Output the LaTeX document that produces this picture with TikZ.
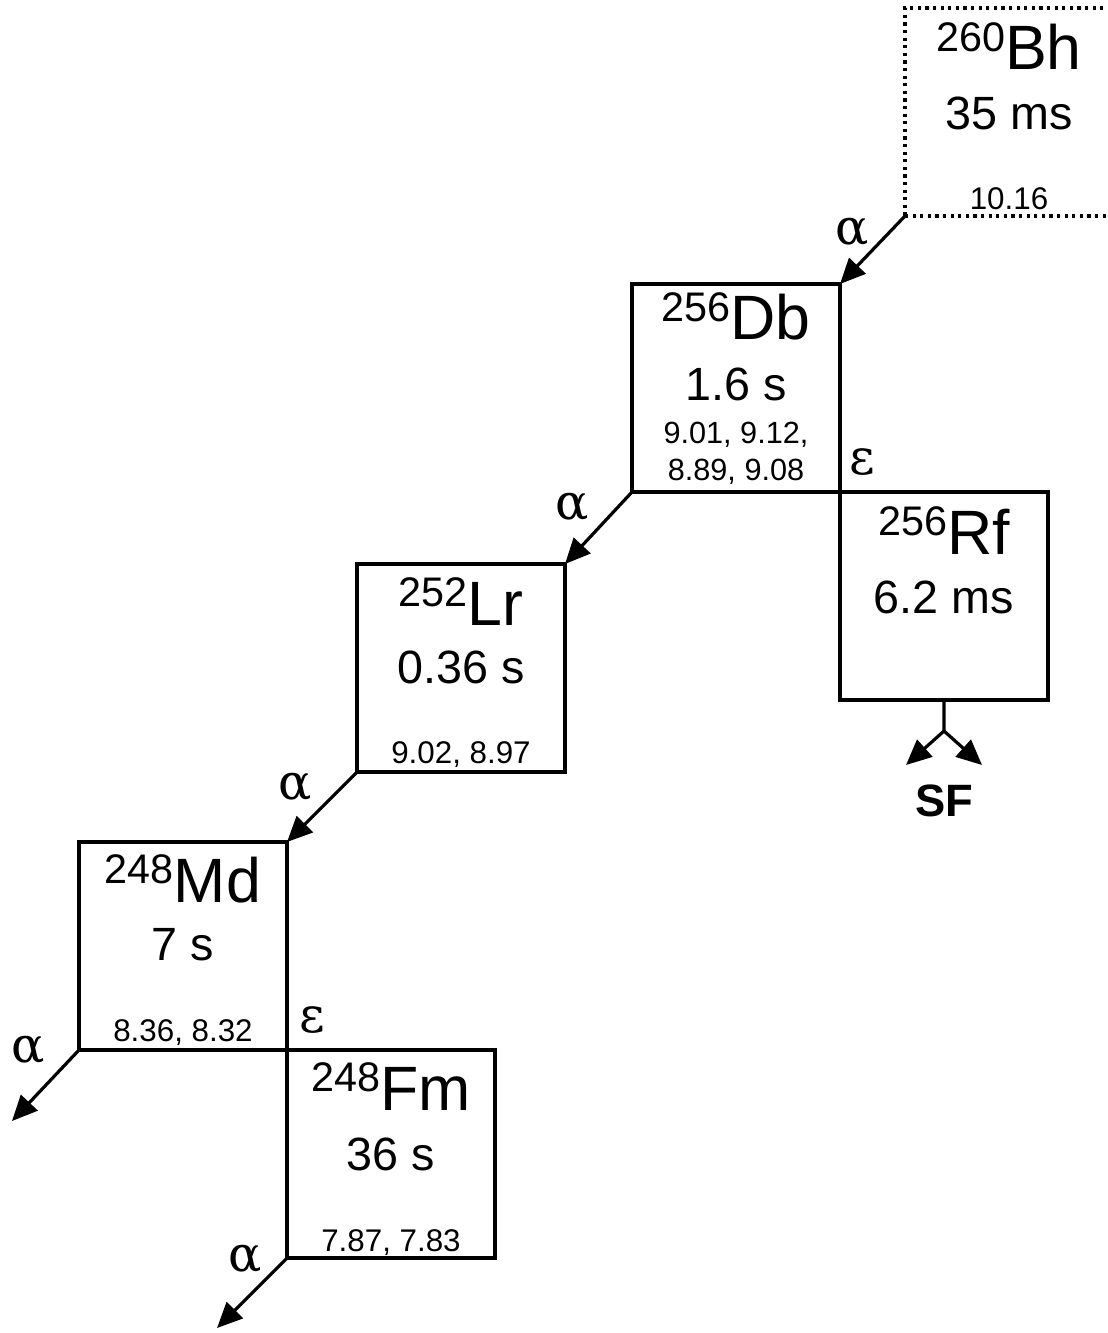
\documentclass[tikz,border=0pt]{standalone}
\usepackage{fontspec}
\setmainfont{Liberation Sans}
\newfontfamily\greekfont{DejaVu Serif}
\usepackage{tikz}
\usetikzlibrary{arrows.meta, positioning, calc}

\newcommand{\isotope}[2]{\raisebox{14pt}{\fontsize{31}{33}\selectfont #1}{\fontsize{47}{50}\selectfont #2}}

\begin{document}
\begin{tikzpicture}[x=0.75pt, y=-0.75pt, >={Triangle[length=19pt, width=17pt]}]
      \tikzstyle{nucl} = [rectangle, draw, line width=2.4pt, minimum width=156pt, minimum height=156pt, inner sep=0pt, outer sep=0pt]
      \tikzstyle{guess} = [dash pattern=on 2.4pt off 3.3pt]
      \tikzstyle{sym} = [anchor=base, inner sep=0pt]
      \tikzstyle{half} = [anchor=base, inner sep=0pt, font=\fontsize{35}{38}\selectfont]
      \tikzstyle{egy} = [anchor=base, inner sep=0pt, font=\fontsize{23.5}{25}\selectfont]
      \tikzstyle{egysmall} = [anchor=base, inner sep=0pt, font=\fontsize{23}{25}\selectfont]
      \tikzstyle{mode} = [inner sep=0pt, font=\greekfont\fontsize{37}{39}\selectfont]
      \tikzstyle{decay} = [->, line width=2.4pt]

      \useasboundingbox (0,0) rectangle (1107,1333);

      % Boxes
      \node (bh) [nucl, guess, anchor=north west] at (905,8) {};
      \node (db) [nucl, anchor=north west] at (632,284) {};
      \node (rf) [nucl, anchor=north west] at (db.south east) {};
      \node (lr) [nucl, anchor=north west] at (357,564) {};
      \node (md) [nucl, anchor=north west] at (79,842) {};
      \node (fm) [nucl, anchor=north west] at (md.south east) {};

      % Box texts
      \node (bhsym) [sym] at ($(bh.north)+(0,62)$) {\isotope{260}{Bh}};
      \node (bhhalf) [half] at ($(bh.north)+(0,122)$) {35 ms};
      \node (bhegy) [egy] at ($(bh.north)+(0,202)$) {10.16};

      \node (dbsym) [sym] at ($(db.north)+(0,56)$) {\isotope{256}{Db}};
      \node (dbhalf) [half] at ($(db.north)+(0,116)$) {1.6 s};
      \node (dbegy1) [egysmall] at ($(db.north)+(0,159)$) {9.01, 9.12,};
      \node (dbegy2) [egysmall] at ($(db.north)+(0,196)$) {8.89, 9.08};

      \node (rfsym) [sym] at ($(rf.north)+(0,62)$) {\isotope{256}{Rf}};
      \node (rfhalf) [half] at ($(rf.north)+(0,121)$) {6.2 ms};

      \node (lrsym) [sym] at ($(lr.north)+(0,61)$) {\isotope{252}{Lr}};
      \node (lrhalf) [half] at ($(lr.north)+(0,119)$) {0.36 s};
      \node (lregy) [egy] at ($(lr.north)+(0,199)$) {9.02, 8.97};

      \node (mdsym) [sym] at ($(md.north)+(0,60)$) {\isotope{248}{Md}};
      \node (mdhalf) [half] at ($(md.north)+(0,118)$) {7 s};
      \node (mdegy) [egy] at ($(md.north)+(0,199)$) {8.36, 8.32};

      \node (fmsym) [sym] at ($(fm.north)+(0,60)$) {\isotope{248}{Fm}};
      \node (fmhalf) [half] at ($(fm.north)+(0,120)$) {36 s};
      \node (fmegy) [egy] at ($(fm.north)+(0,201)$) {7.87, 7.83};

      % Free ends
      \coordinate (mdout) at ($(md.south west)+(-67,71)$);
      \coordinate (fmout) at ($(fm.south west)+(-70,70)$);
      \coordinate (split) at ($(rf.south)+(0,31)$);
      \coordinate (sfl) at ($(split)+(-38,34)$);
      \coordinate (sfr) at ($(split)+(38,34)$);

      % Alpha decays
      \draw[decay] (bh.south west) -- (db.north east);
      \draw[decay] (db.south west) -- (lr.north east);
      \draw[decay] (lr.south west) -- (md.north east);
      \draw[decay] (md.south west) -- (mdout);
      \draw[decay] (fm.south west) -- (fmout);
      \node (bhalpha) [mode] at (852,232) {α};
      \node (dbalpha) [mode] at (572,507) {α};
      \node (lralpha) [mode] at (295,787) {α};
      \node (mdalpha) [mode] at (28,1050) {α};
      \node (fmalpha) [mode] at (245,1259) {α};

      % EC branches
      \node (dbeps) [mode] at (862,462) {ε};
      \node (mdeps) [mode] at (312,1020) {ε};

      % Fission
      \draw[decay] (rf.south) -- (split) -- (sfl);
      \draw[decay] (split) -- (sfr);
      \node (sf) [font=\bfseries\fontsize{34}{36}\selectfont, inner sep=0pt] at ($(split)+(0,70)$) {SF};
    \end{tikzpicture}
\end{document}
